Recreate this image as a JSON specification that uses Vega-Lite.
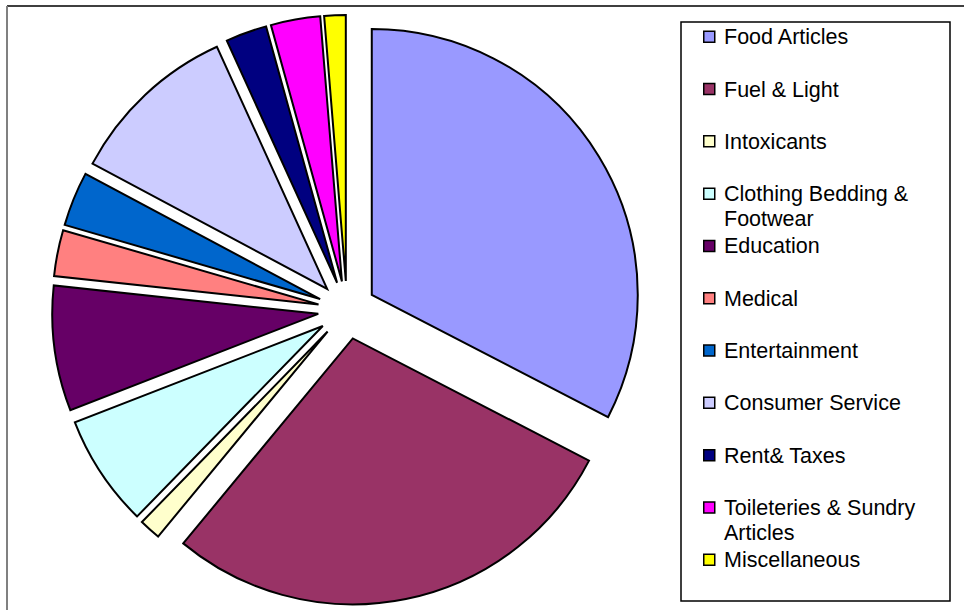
{
  "$schema": "https://vega.github.io/schema/vega-lite/v6.json",
  "width": 680,
  "height": 608,
  "autosize": {"type": "none"},
  "padding": {"left": 7, "top": 6, "right": 277, "bottom": 0},
  "background": "#ffffff",
  "config": {
    "font": "Liberation Sans",
    "view": {"stroke": null}
  },
  "layer": [
    {
      "data": {"values": [{}]},
      "mark": {"type": "rect", "x": 0, "x2": {"expr": "width + 277"}, "fill": null, "stroke": "#000000", "strokeWidth": 1.5, "strokeDash": [957, 5000]},
      "encoding": {}
    },
    {
      "data": {"values": [{}]},
      "mark": {"type": "rect", "fill": null, "stroke": "#808080", "strokeWidth": 2, "strokeDash": [0, 1968, 608]},
      "encoding": {}
    },
    {
      "data": {
        "values": [
          {"slot": 1, "category": "Food Articles", "share": 32.6},
          {"slot": 2, "category": "Fuel & Light", "share": 28.4},
          {"slot": 3, "category": "Intoxicants", "share": 1.3},
          {"slot": 4, "category": "Clothing Bedding & Footwear", "share": 6.8},
          {"slot": 5, "category": "Education", "share": 7.6},
          {"slot": 6, "category": "Medical", "share": 2.8},
          {"slot": 7, "category": "Entertainment", "share": 3.3},
          {"slot": 8, "category": "Consumer Service", "share": 10.4},
          {"slot": 9, "category": "Rent& Taxes", "share": 2.5},
          {"slot": 10, "category": "Toileteries & Sundry Articles", "share": 3.0},
          {"slot": 11, "category": "Miscellaneous", "share": 1.3}
        ]
      },
      "mark": {
        "type": "arc",
        "outerRadius": 266,
        "stroke": "#000000",
        "strokeWidth": 2,
        "strokeJoin": "miter",
        "xOffset": {"expr": "29*sin((scale('theta', datum.share_start)+scale('theta', datum.share_end))/2)"},
        "yOffset": {"expr": "-29*cos((scale('theta', datum.share_start)+scale('theta', datum.share_end))/2)"}
      },
      "encoding": {
        "theta": {"field": "share", "type": "quantitative", "stack": true},
        "order": {"field": "slot", "type": "quantitative"},
        "color": {
          "field": "category",
          "type": "nominal",
          "scale": {
            "domain": ["Food Articles", "Fuel & Light", "Intoxicants", "Clothing Bedding & Footwear", "Education", "Medical", "Entertainment", "Consumer Service", "Rent& Taxes", "Toileteries & Sundry Articles", "Miscellaneous"],
            "range": ["#9999FF", "#993366", "#FFFFCC", "#CCFFFF", "#660066", "#FF8080", "#0066CC", "#CCCCFF", "#000080", "#FF00FF", "#FFFF00"]
          },
          "legend": {
            "orient": "none",
            "legendX": 674,
            "legendY": 16,
            "title": null,
            "padding": 4,
            "strokeColor": "#000000",
            "fillColor": "#ffffff",
            "gridAlign": "all",
            "rowPadding": 4.3,
            "symbolType": "M-1,-1H1V1H-1ZM42.4,0",
            "symbolSize": 121,
            "symbolStrokeColor": "#000000",
            "symbolStrokeWidth": 1.5,
            "symbolOffset": 13.5,
            "labelFont": "Liberation Sans",
            "labelFontSize": 21.5,
            "labelColor": "#000000",
            "labelOffset": 4,
            "labelLimit": 400,
            "labelBaseline": "top",
            "labelExpr": "datum.label == 'Clothing Bedding & Footwear' ? ['Clothing Bedding &', 'Footwear'] : datum.label == 'Toileteries & Sundry Articles' ? ['Toileteries & Sundry', 'Articles'] : datum.label == 'Miscellaneous' ? ['Miscellaneous', ''] : datum.label",
            "encode": {
              "labels": {"update": {"dy": {"value": -9.5}, "lineHeight": {"value": 25}}},
              "legend": {"update": {"strokeWidth": {"value": 1.5}}}
            }
          }
        }
      }
    }
  ]
}
